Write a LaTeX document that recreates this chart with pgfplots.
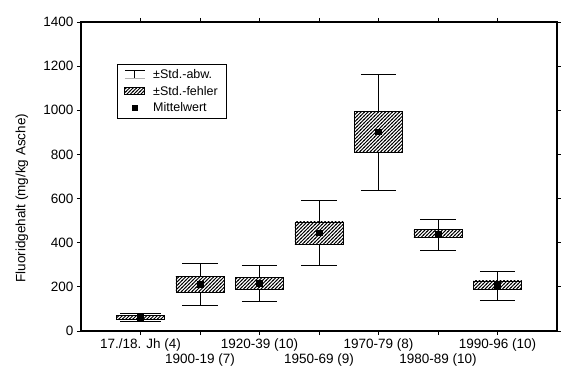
\documentclass[border=0pt]{standalone}
\usepackage{pgfplots}
\pgfplotsset{compat=1.18}
\usetikzlibrary{patterns}
\usepackage{fontspec}
\setmainfont{Liberation Sans}
\pgfdeclarepatternformonly{hatch}{\pgfqpoint{-1pt}{-1pt}}{\pgfqpoint{4.5pt}{4.5pt}}{\pgfqpoint{3.5pt}{3.5pt}}{%
  \pgfsetlinewidth{0.75pt}%
  \pgfpathmoveto{\pgfqpoint{-0.5pt}{-0.5pt}}%
  \pgfpathlineto{\pgfqpoint{4pt}{4pt}}%
  \pgfusepath{stroke}}
\begin{document}
\begin{tikzpicture}
\path[use as bounding box] (-81pt,-44pt) rectangle (496pt,331pt);
\begin{axis}[
  at={(0pt,0pt)}, anchor=south west,
  scale only axis, width=476pt, height=309pt,
  xmin=0, xmax=8, ymin=0, ymax=1400,
  ytick={0,200,...,1400},
  xtick={1,3,5,7},
  xticklabels={17./18. Jh (4), 1920-39 (10), 1970-79 (8), 1990-96 (10)},
  extra x ticks={2,4,6},
  extra x tick labels={1900-19 (7), 1950-69 (9), 1980-89 (10)},
  extra x tick style={tick label style={yshift=-15pt}},
  tick align=outside,
  major tick length=4pt,
  tick style={black, line width=0.9pt},
  axis line style={line width=1.2pt},
  tick label style={font=\fontsize{13.5}{16}\selectfont},
  /pgf/number format/assume math mode=true,
  /pgf/number format/1000 sep={},
  unbounded coords=jump,
  ylabel={Fluoridgehalt (mg/kg Asche)},
  ylabel style={at={(axis description cs:-0.124,0.43)}, anchor=center, font=\fontsize{13.5}{16}\selectfont},
  legend style={at={(axis description cs:0.0756,0.864)}, anchor=north west, draw=black, line width=0.9pt,
    font=\fontsize{12.5}{15}\selectfont, row sep=2pt, inner xsep=7pt, inner ysep=3pt,
    /tikz/every odd column/.append style={column sep=6pt}},
  legend cell align=left,
]
\addlegendimage{legend image code/.code={
  \draw[line width=0.8pt] (0pt,4pt)--(20pt,4pt);
  \draw[line width=0.8pt] (10pt,4pt)--(10pt,-4pt);
  \draw[gray!60, line width=0.6pt] (0pt,-4pt)--(20pt,-4pt);}}
\addlegendentry{±Std.-abw.}
\addlegendimage{legend image code/.code={
  \draw[line width=0.8pt, pattern=hatch] (0pt,-3.5pt) rectangle (20pt,3.5pt);}}
\addlegendentry{±Std.-fehler}
\addlegendimage{legend image code/.code={
  \fill[black] (7.5pt,-2.5pt) rectangle (12.5pt,2.5pt);}}
\addlegendentry{Mittelwert}

% whiskers (standard deviation)
\addplot[black, line width=0.8pt, forget plot] coordinates {
 (1,71) (1,78) (nan,nan) (0.66,78) (1.34,78) (nan,nan) (1,53) (1,44) (nan,nan) (0.66,44) (1.34,44) (nan,nan)
 (2,248) (2,307) (nan,nan) (1.705,307) (2.295,307) (nan,nan) (2,174) (2,115) (nan,nan) (1.705,115) (2.295,115) (nan,nan)
 (3,243) (3,298) (nan,nan) (2.705,298) (3.295,298) (nan,nan) (3,190) (3,136) (nan,nan) (2.705,136) (3.295,136) (nan,nan)
 (4,494) (4,590) (nan,nan) (3.705,590) (4.295,590) (nan,nan) (4,394) (4,298) (nan,nan) (3.705,298) (4.295,298) (nan,nan)
 (5,994) (5,1164) (nan,nan) (4.705,1164) (5.295,1164) (nan,nan) (5,810) (5,636) (nan,nan) (4.705,636) (5.295,636) (nan,nan)
 (6,461) (6,507) (nan,nan) (5.705,507) (6.295,507) (nan,nan) (6,423) (6,367) (nan,nan) (5.705,367) (6.295,367) (nan,nan)
 (7,227) (7,269) (nan,nan) (6.705,269) (7.295,269) (nan,nan) (7,189) (7,140) (nan,nan) (6.705,140) (7.295,140)
};
% boxes (standard error)
\addplot[draw=black, line width=0.8pt, pattern=hatch, forget plot] coordinates {(0.59,53) (1.41,53) (1.41,71) (0.59,71)} --cycle;
\addplot[draw=black, line width=0.8pt, pattern=hatch, forget plot] coordinates {(1.595,174) (2.405,174) (2.405,248) (1.595,248)} --cycle;
\addplot[draw=black, line width=0.8pt, pattern=hatch, forget plot] coordinates {(2.595,190) (3.405,190) (3.405,243) (2.595,243)} --cycle;
\addplot[draw=black, line width=0.8pt, pattern=hatch, forget plot] coordinates {(3.595,394) (4.405,394) (4.405,494) (3.595,494)} --cycle;
\addplot[draw=black, line width=0.8pt, pattern=hatch, forget plot] coordinates {(4.595,810) (5.405,810) (5.405,994) (4.595,994)} --cycle;
\addplot[draw=black, line width=0.8pt, pattern=hatch, forget plot] coordinates {(5.595,423) (6.405,423) (6.405,461) (5.595,461)} --cycle;
\addplot[draw=black, line width=0.8pt, pattern=hatch, forget plot] coordinates {(6.595,189) (7.405,189) (7.405,227) (6.595,227)} --cycle;
% means
\addplot[only marks, mark=square*, mark size=2.9pt, black, forget plot] coordinates {(1,62) (2,212) (3,217) (4,445) (5,903) (6,441) (7,208)};
\end{axis}
\end{tikzpicture}
\end{document}
